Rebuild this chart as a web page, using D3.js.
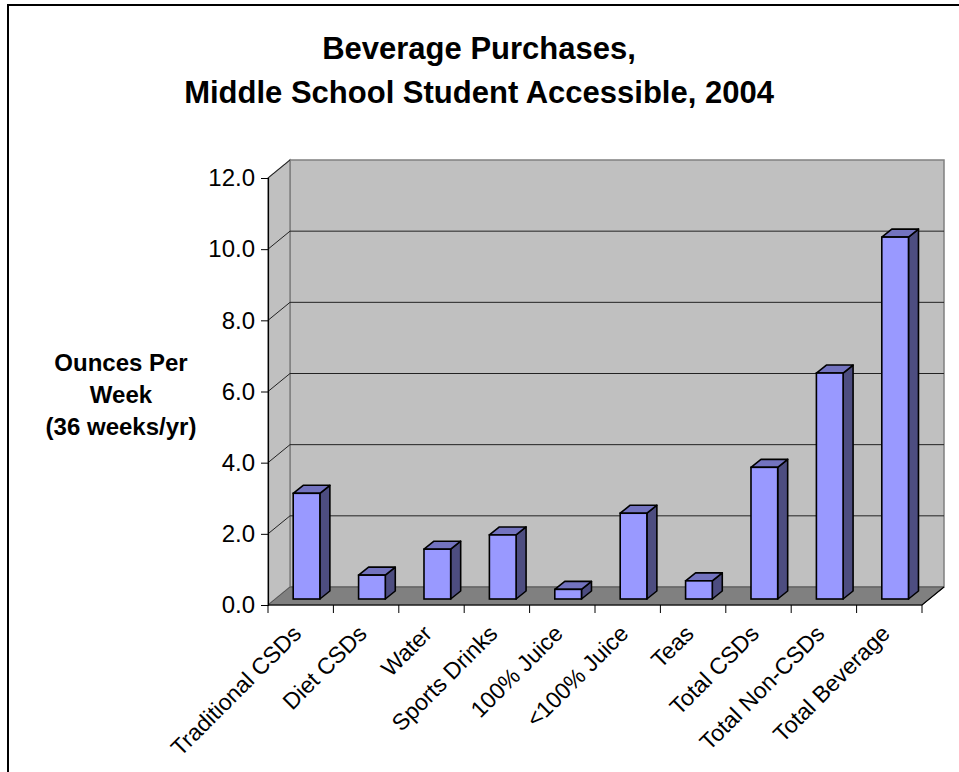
<!DOCTYPE html>
<html>
<head>
<meta charset="utf-8">
<script src="https://cdn.jsdelivr.net/npm/d3@7"></script>
<style>
  html, body { margin: 0; padding: 0; background: #fff; }
  svg { display: block; }
  text { font-family: "Liberation Sans", Arial, sans-serif; fill: #000; }
</style>
</head>
<body>
<script>
const categories = ["Traditional CSDs", "Diet CSDs", "Water", "Sports Drinks", "100% Juice",
  "<100% Juice", "Teas", "Total CSDs", "Total Non-CSDs", "Total Beverage"];
const values = [2.97, 0.67, 1.40, 1.80, 0.27, 2.41, 0.51, 3.70, 6.35, 10.17];
const yTicks = [0, 2, 4, 6, 8, 10, 12];
const titleLines = ["Beverage Purchases,", "Middle School Student Accessible, 2004"];
const yTitleLines = ["Ounces Per", "Week", "(36 weeks/yr)"];

const W = 959, H = 772;
const svg = d3.select("body").append("svg").attr("width", W).attr("height", H);

// frame
svg.append("rect").attr("x", 8).attr("y", 5).attr("width", W + 20).attr("height", H + 20)
  .attr("fill", "#fff").attr("stroke", "#000").attr("stroke-width", 2);

// 3D geometry
const x0 = 268, x1 = 922, yBase = 605, yTop = 178;
const depthX = 22, depthY = -18;
const x = d3.scaleBand().domain(categories).range([x0, x1]).padding(0);
const y = d3.scaleLinear().domain([0, 12]).range([yBase, yTop]);

// back wall
svg.append("rect")
  .attr("x", x0 + depthX).attr("y", y(12) + depthY)
  .attr("width", x1 - x0).attr("height", y(0) - y(12))
  .attr("fill", "#C0C0C0").attr("stroke", "#808080").attr("stroke-width", 1.5);

// left side wall
svg.append("polygon")
  .attr("points", [[x0, y(0)], [x0, y(12)], [x0 + depthX, y(12) + depthY], [x0 + depthX, y(0) + depthY]].join(" "))
  .attr("fill", "#C0C0C0").attr("stroke", "#808080").attr("stroke-width", 1.5);

// gridlines
const grid = yTicks.filter(v => v > 0 && v < 12);
svg.append("g").selectAll("path").data(grid).join("path")
  .attr("d", v => `M${x0},${y(v)}L${x0 + depthX},${y(v) + depthY}L${x1 + depthX},${y(v) + depthY}`)
  .attr("fill", "none").attr("stroke", "#222").attr("stroke-width", 1);
svg.append("path")
  .attr("d", `M${x0},${y(12)}L${x0 + depthX},${y(12) + depthY}`)
  .attr("fill", "none").attr("stroke", "#222").attr("stroke-width", 1);

// floor
svg.append("polygon")
  .attr("points", [[x0, y(0)], [x1, y(0)], [x1 + depthX, y(0) + depthY], [x0 + depthX, y(0) + depthY]].join(" "))
  .attr("fill", "#808080").attr("stroke", "#555").attr("stroke-width", 1);

// bars
const bw = x.bandwidth() * 0.408;
const bFrac = 1 / 3;
const bdx = 10, bdy = -8;
const shiftX = depthX * bFrac, shiftY = depthY * bFrac;
const bars = svg.append("g").selectAll("g").data(values).join("g");
const fx = (d, i) => x(categories[i]) + shiftX + (x.bandwidth() - bw) / 2 - 1.5;
const fy = d => y(d) + shiftY;
const fb = y(0) + shiftY;
bars.append("polygon")
  .attr("points", (d, i) => {
    const a = fx(d, i) + bw;
    return [[a, fy(d)], [a + bdx, fy(d) + bdy], [a + bdx, fb + bdy], [a, fb]].join(" ");
  })
  .attr("fill", "#4D4D80").attr("stroke", "#000").attr("stroke-width", 1.6).attr("stroke-linejoin", "round");
bars.append("polygon")
  .attr("points", (d, i) => {
    const a = fx(d, i);
    return [[a, fy(d)], [a + bw, fy(d)], [a + bw + bdx, fy(d) + bdy], [a + bdx, fy(d) + bdy]].join(" ");
  })
  .attr("fill", "#7373BF").attr("stroke", "#000").attr("stroke-width", 1.6).attr("stroke-linejoin", "round");
bars.append("rect")
  .attr("x", (d, i) => fx(d, i)).attr("y", d => fy(d))
  .attr("width", bw).attr("height", d => fb - fy(d))
  .attr("fill", "#9999FF").attr("stroke", "#000").attr("stroke-width", 1.6);

// front axes
const yAxis = d3.axisLeft(y).tickValues(yTicks).tickFormat(d3.format(".1f")).tickSize(7).tickPadding(6);
const gy = svg.append("g").attr("transform", `translate(${x0},0)`).call(yAxis);
gy.select(".domain").attr("stroke", "#000").attr("stroke-width", 1.2);
gy.selectAll(".tick line").attr("stroke", "#000");
gy.selectAll(".tick text").attr("font-size", 24).attr("font-family", "Liberation Sans, Arial, sans-serif").attr("fill", "#000");

svg.append("path").attr("d", `M${x0},${yBase}L${x1},${yBase}L${x1 + depthX},${yBase + depthY}`)
  .attr("fill", "none").attr("stroke", "#000").attr("stroke-width", 1.2);
const tickPos = categories.map(c => x(c)).concat([x1]);
svg.append("g").selectAll("line").data(tickPos).join("line")
  .attr("x1", d => d).attr("x2", d => d).attr("y1", yBase).attr("y2", yBase + 8)
  .attr("stroke", "#000").attr("stroke-width", 1);

// x labels
svg.append("g").selectAll("text").data(categories).join("text")
  .attr("transform", c => `translate(${x(c) + x.bandwidth() / 2 + 2},635) rotate(-45)`)
  .attr("text-anchor", "end").attr("font-size", 23).text(c => c);

// title
svg.append("text").attr("x", 479).attr("text-anchor", "middle")
  .attr("font-size", 31).attr("font-weight", "bold")
  .selectAll("tspan").data(titleLines).join("tspan")
  .attr("x", 479).attr("y", (d, i) => 59 + i * 44).text(d => d);

// y title
svg.append("text").attr("text-anchor", "middle")
  .attr("font-size", 24).attr("font-weight", "bold")
  .selectAll("tspan").data(yTitleLines).join("tspan")
  .attr("x", 121).attr("y", (d, i) => 371 + i * 32).text(d => d);
</script>
</body>
</html>
